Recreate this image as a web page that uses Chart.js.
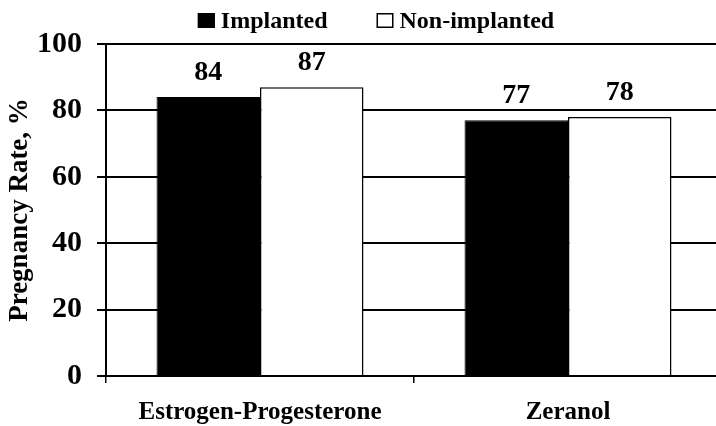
<!DOCTYPE html>
<html>
<head>
<meta charset="utf-8">
<script src="https://cdn.jsdelivr.net/npm/chart.js@4"></script>
<style>
  html, body { margin: 0; padding: 0; background: #fff; overflow: hidden; }
  #chart { display: block; }
</style>
</head>
<body>
<canvas id="chart" width="722" height="426"></canvas>
<script>
// datos del gráfico
const categorias = ['Estrogen-Progesterone', 'Zeranol'];
const implantados = [84, 77];
const noImplantados = [87, 78];
const nombresSeries = ['Implanted', 'Non-implanted'];
const tituloY = 'Pregnancy Rate, %';

const fuente = '"Liberation Serif", "Times New Roman", serif';

// etiquetas de valor encima de cada barra
const etiquetasValor = {
    id: 'etiquetasValor',
    afterDatasetsDraw(chart) {
        const ctx = chart.ctx;
        ctx.save();
        ctx.font = 'bold 28px ' + fuente;
        ctx.fillStyle = '#000';
        ctx.textAlign = 'center';
        ctx.textBaseline = 'alphabetic';
        chart.data.datasets.forEach((ds, i) => {
            chart.getDatasetMeta(i).data.forEach((bar, j) => {
                ctx.fillText(ds.data[j], bar.x, bar.y - 17);
            });
        });
        ctx.restore();
    }
};

// leyenda arriba: cuadrito pegado al texto, como en la figura
const leyenda = {
    id: 'leyenda',
    afterDraw(chart) {
        const ctx = chart.ctx;
        const caja = 17, sep = 6, entre = 49, centro = 376, base = 28;
        ctx.save();
        ctx.font = 'bold 24px ' + fuente;
        ctx.textBaseline = 'alphabetic';
        ctx.textAlign = 'left';
        const items = chart.data.datasets.map(ds => ({
            texto: ds.label,
            fondo: ds.backgroundColor,
            ancho: caja + sep + ctx.measureText(ds.label).width
        }));
        const total = items.reduce((s, it) => s + it.ancho, 0) + entre * (items.length - 1);
        let x = centro - total / 2;
        items.forEach(it => {
            ctx.fillStyle = it.fondo;
            ctx.fillRect(x, base - 15, caja, 15);
            ctx.strokeStyle = '#000';
            ctx.lineWidth = 1.5;
            ctx.strokeRect(x + 0.75, base - 15 + 0.75, caja - 1.5, 15 - 1.5);
            ctx.fillStyle = '#000';
            ctx.fillText(it.texto, x + caja + sep, base);
            x += it.ancho + entre;
        });
        ctx.restore();
    }
};

new Chart(document.getElementById('chart').getContext('2d'), {
    type: 'bar',
    data: {
        labels: categorias,
        datasets: [{
            label: nombresSeries[0],
            data: implantados,
            backgroundColor: '#000',
            borderColor: '#000',
            borderWidth: 1,
            barPercentage: 1,
            categoryPercentage: 0.672
        }, {
            label: nombresSeries[1],
            data: noImplantados,
            backgroundColor: '#fff',
            borderColor: '#000',
            borderWidth: 1.5,
            barPercentage: 1,
            categoryPercentage: 0.672
        }]
    },
    options: {
        responsive: false,
        animation: false,
        devicePixelRatio: 1,
        layout: { padding: { left: 0, right: 0, top: 44, bottom: 0 } },
        plugins: {
            tooltip: { enabled: false },
            legend: { display: false }
        },
        scales: {
            x: {
                grid: {
                    display: true,
                    drawOnChartArea: false,
                    drawTicks: true,
                    tickLength: 7,
                    color: '#000',
                    lineWidth: 1.5
                },
                border: { color: '#000', width: 2 },
                ticks: {
                    color: '#000',
                    padding: 15,
                    font: { family: fuente, size: 25, weight: 'bold' }
                },
                afterFit(scale) { scale.height = 50; }
            },
            y: {
                min: 0,
                max: 100,
                ticks: {
                    stepSize: 20,
                    color: '#000',
                    padding: 15,
                    font: { family: fuente, size: 30, weight: 'bold' }
                },
                grid: {
                    color: '#000',
                    lineWidth: 2,
                    tickLength: 9
                },
                border: { color: '#000', width: 2 },
                title: {
                    display: true,
                    text: tituloY,
                    color: '#000',
                    padding: { top: 4, bottom: 0 },
                    font: { family: fuente, size: 27, weight: 'bold' }
                },
                afterFit(scale) { scale.width = 106; }
            }
        }
    },
    plugins: [etiquetasValor, leyenda]
});
</script>
</body>
</html>
